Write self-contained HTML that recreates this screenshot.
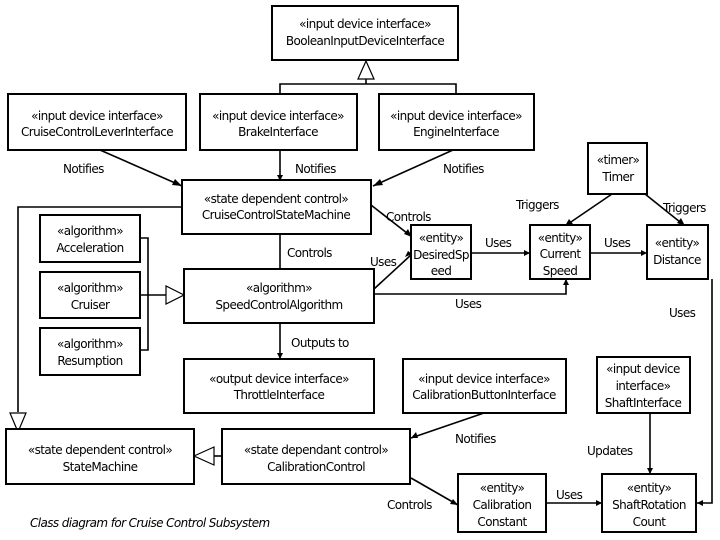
<!DOCTYPE html>
<html><head><meta charset="utf-8"><style>
html,body{margin:0;padding:0;background:#fff;}
svg{display:block;}
text{font-family:"DejaVu Sans","Liberation Sans",sans-serif;font-size:12px;fill:#000;letter-spacing:-0.6px;}
.b{fill:#fff;stroke:#000;stroke-width:2;}
.l{stroke:#000;stroke-width:1.6;fill:none;}
.t{fill:#fff;stroke:#000;stroke-width:1.2;}
</style></head><body>
<svg width="720" height="540" viewBox="0 0 720 540" xmlns="http://www.w3.org/2000/svg">
<g class="l">
<polyline points="280,94 280,84 456,84 456,94"/>
<line x1="366" y1="84" x2="366" y2="79"/>
<line x1="100" y1="150" x2="182" y2="186"/>
<line x1="280" y1="150" x2="280" y2="180"/>
<line x1="453" y1="150" x2="373" y2="186"/>
<line x1="371" y1="205" x2="412" y2="237"/>
<polyline points="182,207 18,207 18,412"/>
<line x1="280" y1="234" x2="280" y2="269"/>
<polyline points="140,238 148,238 148,350 140,350"/>
<line x1="140" y1="295" x2="166" y2="295"/>
<line x1="374" y1="289" x2="412" y2="254"/>
<line x1="471" y1="253" x2="530" y2="253"/>
<line x1="590" y1="253" x2="647" y2="253"/>
<line x1="612" y1="194" x2="565" y2="226"/>
<line x1="645" y1="194" x2="685" y2="226"/>
<polyline points="374,294 566,294 566,279"/>
<polyline points="712,279 712,503 697,503"/>
<line x1="280" y1="323" x2="280" y2="359"/>
<line x1="484" y1="413" x2="411" y2="438"/>
<line x1="214" y1="456" x2="222" y2="456"/>
<line x1="411" y1="478" x2="458" y2="505"/>
<line x1="546" y1="503" x2="602" y2="503"/>
<line x1="650" y1="413" x2="650" y2="474"/>
</g>
<polygon class="t" points="366,61 358,79 374,79"/>
<polygon class="t" points="18,432 10,413 26,413"/>
<polygon class="t" points="184,295 166,286 166,304"/>
<polygon class="t" points="194,456 214,447 214,465"/>
<g fill="#000">
<polygon points="182,186 172,185 175,179"/>
<polygon points="280,181 277,175 283,175"/>
<polygon points="373,186 380,179 383,185"/>
<polygon points="412,237 404,234 408,229"/>
<polygon points="412,254 405,257 408,251"/>
<polygon points="530,253 524,250 524,256"/>
<polygon points="647,253 641,250 641,256"/>
<polygon points="565,226 569,219 573,224"/>
<polygon points="685,226 677,223 681,218"/>
<polygon points="566,279 563,285 569,285"/>
<polygon points="697,503 703,500 703,506"/>
<polygon points="280,359 277,353 283,353"/>
<polygon points="411,438 416,432 418,438"/>
<polygon points="458,505 450,504 453,499"/>
<polygon points="602,503 596,500 596,506"/>
<polygon points="650,474 647,468 653,468"/>
</g>
<rect class="b" x="272" y="6" width="186" height="54"/>
<rect class="b" x="8" y="94" width="178" height="56"/>
<rect class="b" x="200" y="94" width="157" height="56"/>
<rect class="b" x="379" y="94" width="155" height="56"/>
<rect class="b" x="588" y="143" width="59" height="51"/>
<rect class="b" x="182" y="180" width="189" height="54"/>
<rect class="b" x="40" y="215" width="100" height="47"/>
<rect class="b" x="40" y="272" width="100" height="46"/>
<rect class="b" x="40" y="328" width="100" height="47"/>
<rect class="b" x="184" y="269" width="190" height="54"/>
<rect class="b" x="411" y="225" width="60" height="54"/>
<rect class="b" x="530" y="225" width="60" height="54"/>
<rect class="b" x="647" y="225" width="61" height="54"/>
<rect class="b" x="184" y="359" width="190" height="54"/>
<rect class="b" x="403" y="359" width="163" height="54"/>
<rect class="b" x="597" y="357" width="93" height="56"/>
<rect class="b" x="6" y="429" width="188" height="55"/>
<rect class="b" x="222" y="429" width="188" height="55"/>
<rect class="b" x="458" y="474" width="88" height="58"/>
<rect class="b" x="602" y="474" width="94" height="58"/>
<g text-anchor="middle">
<text x="365" y="28">«input device interface»</text><text x="365" y="45">BooleanInputDeviceInterface</text>
<text x="97" y="120">«input device interface»</text><text x="97" y="136">CruiseControlLeverInterface</text>
<text x="278" y="120">«input device interface»</text><text x="278" y="136">BrakeInterface</text>
<text x="456" y="120">«input device interface»</text><text x="456" y="136">EngineInterface</text>
<text x="618" y="164">«timer»</text><text x="618" y="181">Timer</text>
<text x="276" y="203">«state dependent control»</text><text x="276" y="219">CruiseControlStateMachine</text>
<text x="90" y="235">«algorithm»</text><text x="90" y="252">Acceleration</text>
<text x="90" y="292">«algorithm»</text><text x="90" y="309">Cruiser</text>
<text x="90" y="348">«algorithm»</text><text x="90" y="365">Resumption</text>
<text x="279" y="292">«algorithm»</text><text x="279" y="309">SpeedControlAlgorithm</text>
<text x="441" y="242">«entity»</text><text x="441" y="259">DesiredSp</text><text x="441" y="275">eed</text>
<text x="560" y="242">«entity»</text><text x="560" y="258">Current</text><text x="560" y="275">Speed</text>
<text x="677" y="247">«entity»</text><text x="677" y="264">Distance</text>
<text x="279" y="383">«output device interface»</text><text x="279" y="399">ThrottleInterface</text>
<text x="484" y="383">«input device interface»</text><text x="484" y="399">CalibrationButtonInterface</text>
<text x="643" y="373">«input device</text><text x="643" y="390">interface»</text><text x="643" y="407">ShaftInterface</text>
<text x="100" y="454">«state dependent control»</text><text x="100" y="471">StateMachine</text>
<text x="316" y="454">«state dependant control»</text><text x="316" y="471">CalibrationControl</text>
<text x="502" y="492">«entity»</text><text x="502" y="509">Calibration</text><text x="502" y="526">Constant</text>
<text x="649" y="492">«entity»</text><text x="649" y="509">ShaftRotation</text><text x="649" y="526">Count</text>
</g>
<text x="63" y="173">Notifies</text>
<text x="295" y="173">Notifies</text>
<text x="443" y="173">Notifies</text>
<text x="386" y="221">Controls</text>
<text x="516" y="209">Triggers</text>
<text x="663" y="212">Triggers</text>
<text x="287" y="257">Controls</text>
<text x="370" y="266">Uses</text>
<text x="485" y="247">Uses</text>
<text x="604" y="247">Uses</text>
<text x="455" y="308">Uses</text>
<text x="669" y="317">Uses</text>
<text x="291" y="347">Outputs to</text>
<text x="455" y="443">Notifies</text>
<text x="587" y="455">Updates</text>
<text x="387" y="509">Controls</text>
<text x="556" y="499">Uses</text>
<text x="30" y="527" style="font-style:italic">Class diagram for Cruise Control Subsystem</text>
</svg>
</body></html>
